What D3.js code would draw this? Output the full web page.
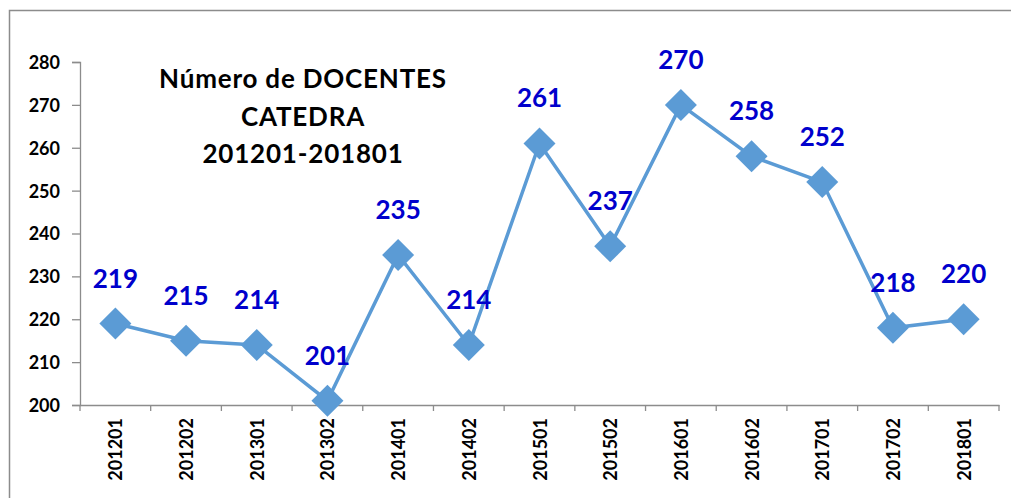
<!DOCTYPE html>
<html>
<head>
<meta charset="utf-8">
<script src="https://cdn.jsdelivr.net/npm/d3@7"></script>
<style>
  body { margin: 0; background: #fff; }
  svg { display: block; }
  svg text { font-family: Lato, "Open Sans", sans-serif; font-weight: bold; }
</style>
</head>
<body>
<div id="chart"></div>
<script>
// data
var periods = ["201201","201202","201301","201302","201401","201402","201501","201502","201601","201602","201701","201702","201801"];
var docentes = [219, 215, 214, 201, 235, 214, 261, 237, 270, 258, 252, 218, 220];
var yTicks = [200, 210, 220, 230, 240, 250, 260, 270, 280];
var titleLines = ["Número de DOCENTES", "CATEDRA", "201201-201801"];

var width = 1011, height = 498;
var margin = { top: 62, right: 12, bottom: 93, left: 80 };

var svg = d3.select("#chart").append("svg")
  .attr("width", width)
  .attr("height", height);

// chart frame
svg.append("rect")
  .attr("x", 9.5).attr("y", 10.5)
  .attr("width", 1010).attr("height", 500)
  .attr("fill", "none")
  .attr("stroke", "#8c8c8c")
  .attr("stroke-width", 1.5);

var x = d3.scaleBand()
  .domain(periods)
  .range([margin.left, width - margin.right]);

var y = d3.scaleLinear()
  .domain([200, 280])
  .range([height - margin.bottom, margin.top]);

// Y axis
var yAxis = svg.append("g")
  .attr("transform", "translate(" + margin.left + ",0)")
  .call(d3.axisLeft(y).tickValues(yTicks).tickSize(8).tickPadding(12));
yAxis.attr("font-family", null).attr("font-size", null);
yAxis.selectAll("line, path").attr("stroke", "#8c8c8c").attr("stroke-width", 1.3);
yAxis.selectAll("text")
  .attr("fill", "#000")
  .attr("dy", "0.36em")
  .style("font-size", "18px");

// X axis, ticks on band edges
var xAxis = svg.append("g")
  .attr("transform", "translate(0," + (height - margin.bottom) + ")")
  .call(d3.axisBottom(x).tickSize(0).tickPadding(0));
xAxis.attr("font-family", null).attr("font-size", null);
xAxis.select("path").attr("stroke", "#8c8c8c").attr("stroke-width", 1.3);
xAxis.selectAll(".tick").remove();

var edges = periods.map(function(p) { return x(p); }).concat([x.range()[1]]);
xAxis.selectAll(".edge")
  .data(edges)
  .enter().append("line")
  .attr("x1", function(d) { return d; })
  .attr("x2", function(d) { return d; })
  .attr("y1", 0).attr("y2", 6)
  .attr("stroke", "#8c8c8c")
  .attr("stroke-width", 1.3);

xAxis.selectAll(".lbl")
  .data(periods)
  .enter().append("text")
  .attr("transform", function(d) {
    return "translate(" + (x(d) + x.bandwidth() / 2 + 7) + ",13) rotate(-90)";
  })
  .attr("text-anchor", "end")
  .attr("fill", "#000")
  .style("font-size", "18px")
  .text(function(d) { return d; });

// line
var line = d3.line()
  .x(function(d, i) { return x(periods[i]) + x.bandwidth() / 2; })
  .y(function(d) { return y(d); });

svg.append("path")
  .datum(docentes)
  .attr("d", line)
  .attr("fill", "none")
  .attr("stroke", "#5b9bd5")
  .attr("stroke-width", 3.5);

// diamond markers
svg.selectAll(".marker")
  .data(docentes)
  .enter().append("path")
  .attr("d", "M0,-16L16,0L0,16L-16,0Z")
  .attr("transform", function(d, i) {
    return "translate(" + (x(periods[i]) + x.bandwidth() / 2) + "," + y(d) + ")";
  })
  .attr("fill", "#5b9bd5");

// value labels
svg.selectAll(".value")
  .data(docentes)
  .enter().append("text")
  .attr("x", function(d, i) { return x(periods[i]) + x.bandwidth() / 2; })
  .attr("y", function(d) { return y(d) - 36; })
  .attr("text-anchor", "middle")
  .attr("fill", "#0000cc")
  .style("font-size", "26px")
  .text(function(d) { return d; });

// title
svg.append("g").selectAll("text")
  .data(titleLines)
  .enter().append("text")
  .attr("x", 303)
  .attr("y", function(d, i) { return 88 + i * 37.5; })
  .attr("text-anchor", "middle")
  .attr("fill", "#000")
  .style("font-size", "26px")
  .style("letter-spacing", "0.8px")
  .text(function(d) { return d; });
</script>
</body>
</html>
